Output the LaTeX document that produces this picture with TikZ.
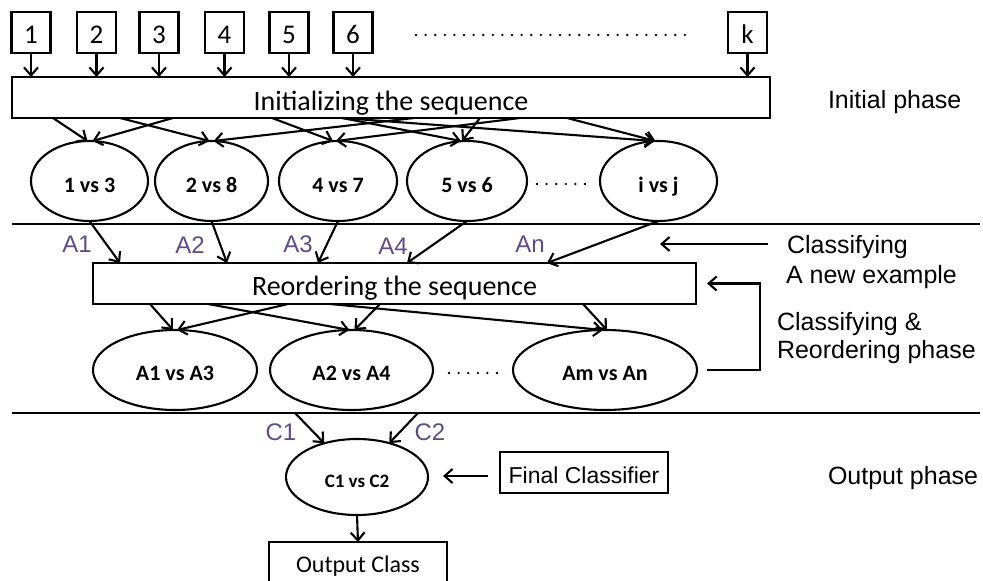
\documentclass[tikz,border=0pt]{standalone}
\usepackage{fontspec}
\setmainfont{Carlito}
\newfontfamily\arialf{Liberation Sans}
\usetikzlibrary{arrows.meta,shapes.geometric,calc}
\definecolor{alab}{RGB}{96,74,138}
\begin{document}
\begin{tikzpicture}[x=1pt,y=-1pt,
  every node/.style={inner sep=0pt, outer sep=0pt},
  lw/.style={line width=2.1pt},
  arr/.style={lw, -{Straight Barb[length=8pt,width=14pt,line width=2.1pt]}},
  numbox/.style={draw, lw, minimum width=39pt, minimum height=41pt, text height=21pt, text depth=0pt, font=\fontsize{27}{29}\selectfont},
  bigbox/.style={draw, lw, minimum height=41pt, text depth=0pt, font=\fontsize{28}{30}\selectfont},
  ell/.style={draw, lw, ellipse, minimum height=80pt, text depth=0pt, font=\bfseries\fontsize{22}{24}\selectfont},
  lab/.style={font=\arialf\fontsize{25}{28}\selectfont, anchor=base west},
  alabel/.style={font=\arialf\fontsize{24}{26}\selectfont, text=alab, anchor=base},
  dotline/.style={line width=2.6pt, dash pattern=on 0pt off 9.6pt, line cap=round},
]
\useasboundingbox (0,0) rectangle (983,581);
\clip (0,0) rectangle (983,581);

% top number boxes
\node[numbox] (b1) at (31,32.5) {1};
\node[numbox] (b2) at (96.5,32.5) {2};
\node[numbox] (b3) at (159,32.5) {3};
\node[numbox] (b4) at (224.5,32.5) {4};
\node[numbox] (b5) at (289,32.5) {5};
\node[numbox] (b6) at (353,32.5) {6};
\node[numbox] (bk) at (747.5,32.5) {k};
\draw[dotline] (416,35) -- (692,35);

% initializing box
\node[bigbox, minimum width=758pt, text height=25pt] (init) at (391,97.5) {Initializing the sequence};
\foreach \b in {b1,b2,b3,b4,b5,b6,bk}{
  \draw[arr] (\b.south) -- (\b.south |- init.north);
}

% first row of ellipses
\node[ell, minimum width=117pt, text height=22pt] (e13) at (89.5,181) {1 vs 3};
\node[ell, minimum width=113pt, text height=22pt] (e28) at (211.5,181) {2 vs 8};
\node[ell, minimum width=118pt, text height=22pt] (e47) at (338,181) {4 vs 7};
\node[ell, minimum width=120pt, text height=22pt] (e56) at (467,181) {5 vs 6};
\node[ell, minimum width=117pt, text height=22pt] (eij) at (658.5,181) {i vs j};
\draw[dotline] (537,184) -- (586,184);

% connectors init -> ellipses
\coordinate (s1) at (53,118);
\coordinate (s2) at (173,118);
\coordinate (s3) at (120,118);
\coordinate (s4) at (414,118);
\coordinate (s5) at (272,118);
\coordinate (s6) at (520,118);
\coordinate (s7) at (342,118);
\coordinate (s8) at (480,118);
\coordinate (s9) at (567,118);
\draw[arr] (s1) -- ([xshift=-2pt]e13.north);
\draw[arr] (s2) -- ([xshift=3pt]e13.north);
\draw[arr] (s3) -- ([xshift=-2pt]e28.north);
\draw[arr] (s4) -- ([xshift=2pt]e28.north);
\draw[arr] (s5) -- ([xshift=-5pt]e47.north);
\draw[arr] (s6) -- ([xshift=-2pt]e47.north);
\draw[arr] (s7) -- ([xshift=-6pt]e56.north);
\draw[arr] (s8) -- ([xshift=-5pt]e56.north);
\draw[arr] (s7) -- ([xshift=-4pt]eij.north);
\draw[arr] (s9) -- ([xshift=-3pt]eij.north);

% separator 1
\draw[lw] (12,224) -- (980,224);

% reordering box
\node[bigbox, minimum width=603pt, text height=23pt] (reord) at (394.5,283.5) {Reordering the sequence};

\coordinate (r1) at (120,263);
\coordinate (r2) at (227,263);
\coordinate (r3) at (318,263);
\coordinate (r4) at (407,263);
\coordinate (r5) at (547,263);
\draw[arr] (e13.south) -- (r1);
\draw[arr] (e28.south) -- (r2);
\draw[arr] (e47.south) -- (r3);
\draw[arr] (e56.south) -- (r4);
\draw[arr] (eij.south) -- (r5);
\node[alabel] (la1) at (77,252) {A1};
\node[alabel] (la2) at (190,253) {A2};
\node[alabel] (la3) at (298,252) {A3};
\node[alabel] (la4) at (393,254) {A4};
\node[alabel] (lan) at (530,252) {An};

% second row of ellipses
\node[ell, minimum width=164pt, text height=20pt] (ea13) at (175,370) {A1 vs A3};
\node[ell, minimum width=163pt, text height=20pt] (ea24) at (351.5,370) {A2 vs A4};
\node[ell, minimum width=184pt, text height=20pt] (eamn) at (605,370) {Am vs An};
\draw[dotline] (449,373) -- (499,373);

\coordinate (t1) at (150,304);
\coordinate (t2) at (288,304);
\coordinate (t3) at (208,304);
\coordinate (t4) at (380,304);
\coordinate (t5) at (330,304);
\coordinate (t6) at (583,304);
\draw[arr] (t1) -- ([xshift=-2pt]ea13.north);
\draw[arr] (t2) -- ([xshift=2pt]ea13.north);
\draw[arr] (t3) -- ([xshift=-2pt]ea24.north);
\draw[arr] (t4) -- ([xshift=3pt]ea24.north);
\draw[arr] (t5) -- ([xshift=-2pt]eamn.north);
\draw[arr] (t6) -- ([xshift=2pt]eamn.north);

% feedback bracket
\coordinate (brk) at (760,330);
\draw[arr] ([xshift=10pt]eamn.east) -| (brk) |- ([xshift=11pt]reord.east);

% right labels
\node[lab] (lip) at (828,108) {Initial phase};
\node[lab] (lc1) at (787,253) {Classifying};
\node[lab] (lc2) at (786,283) {A new example};
\coordinate (ca) at (768,244);
\coordinate (cb) at (660,244);
\draw[arr] (ca) -- (cb);
\node[lab] (lr1) at (777,330) {Classifying \&};
\node[lab] (lr2) at (777,358) {Reordering phase};
\node[lab] (lop) at (828,484) {Output phase};

% separator 2
\draw[lw] (12,413) -- (980,413);

% output phase
\node[ell, minimum width=142pt, minimum height=76pt, text height=20pt, font=\bfseries\fontsize{19}{21}\selectfont] (c12) at (357,477) {C1 vs C2};
\coordinate (c1s) at (295,413);
\coordinate (c2s) at (418,413);
\draw[arr] (c1s) -- (c12);
\draw[arr] (c2s) -- (c12);
\node[alabel] (lc1l) at (281,440) {C1};
\node[alabel] (lc2l) at (430,440) {C2};

\node[draw, lw, minimum width=168pt, minimum height=41pt, text height=21pt, text depth=0pt, font=\arialf\fontsize{23}{25}\selectfont] (fc) at (584,472.5) {Final Classifier};
\coordinate (fa) at (488,476);
\coordinate (fb) at (443,476);
\draw[arr] (fa) -- (fb);

\node[draw, lw, minimum width=178pt, minimum height=41pt, text height=20pt, text depth=0pt, font=\fontsize{24}{26}\selectfont] (out) at (358,562.5) {Output Class};
\draw[arr] (c12.south) -- (out.north);
\end{tikzpicture}
\end{document}
